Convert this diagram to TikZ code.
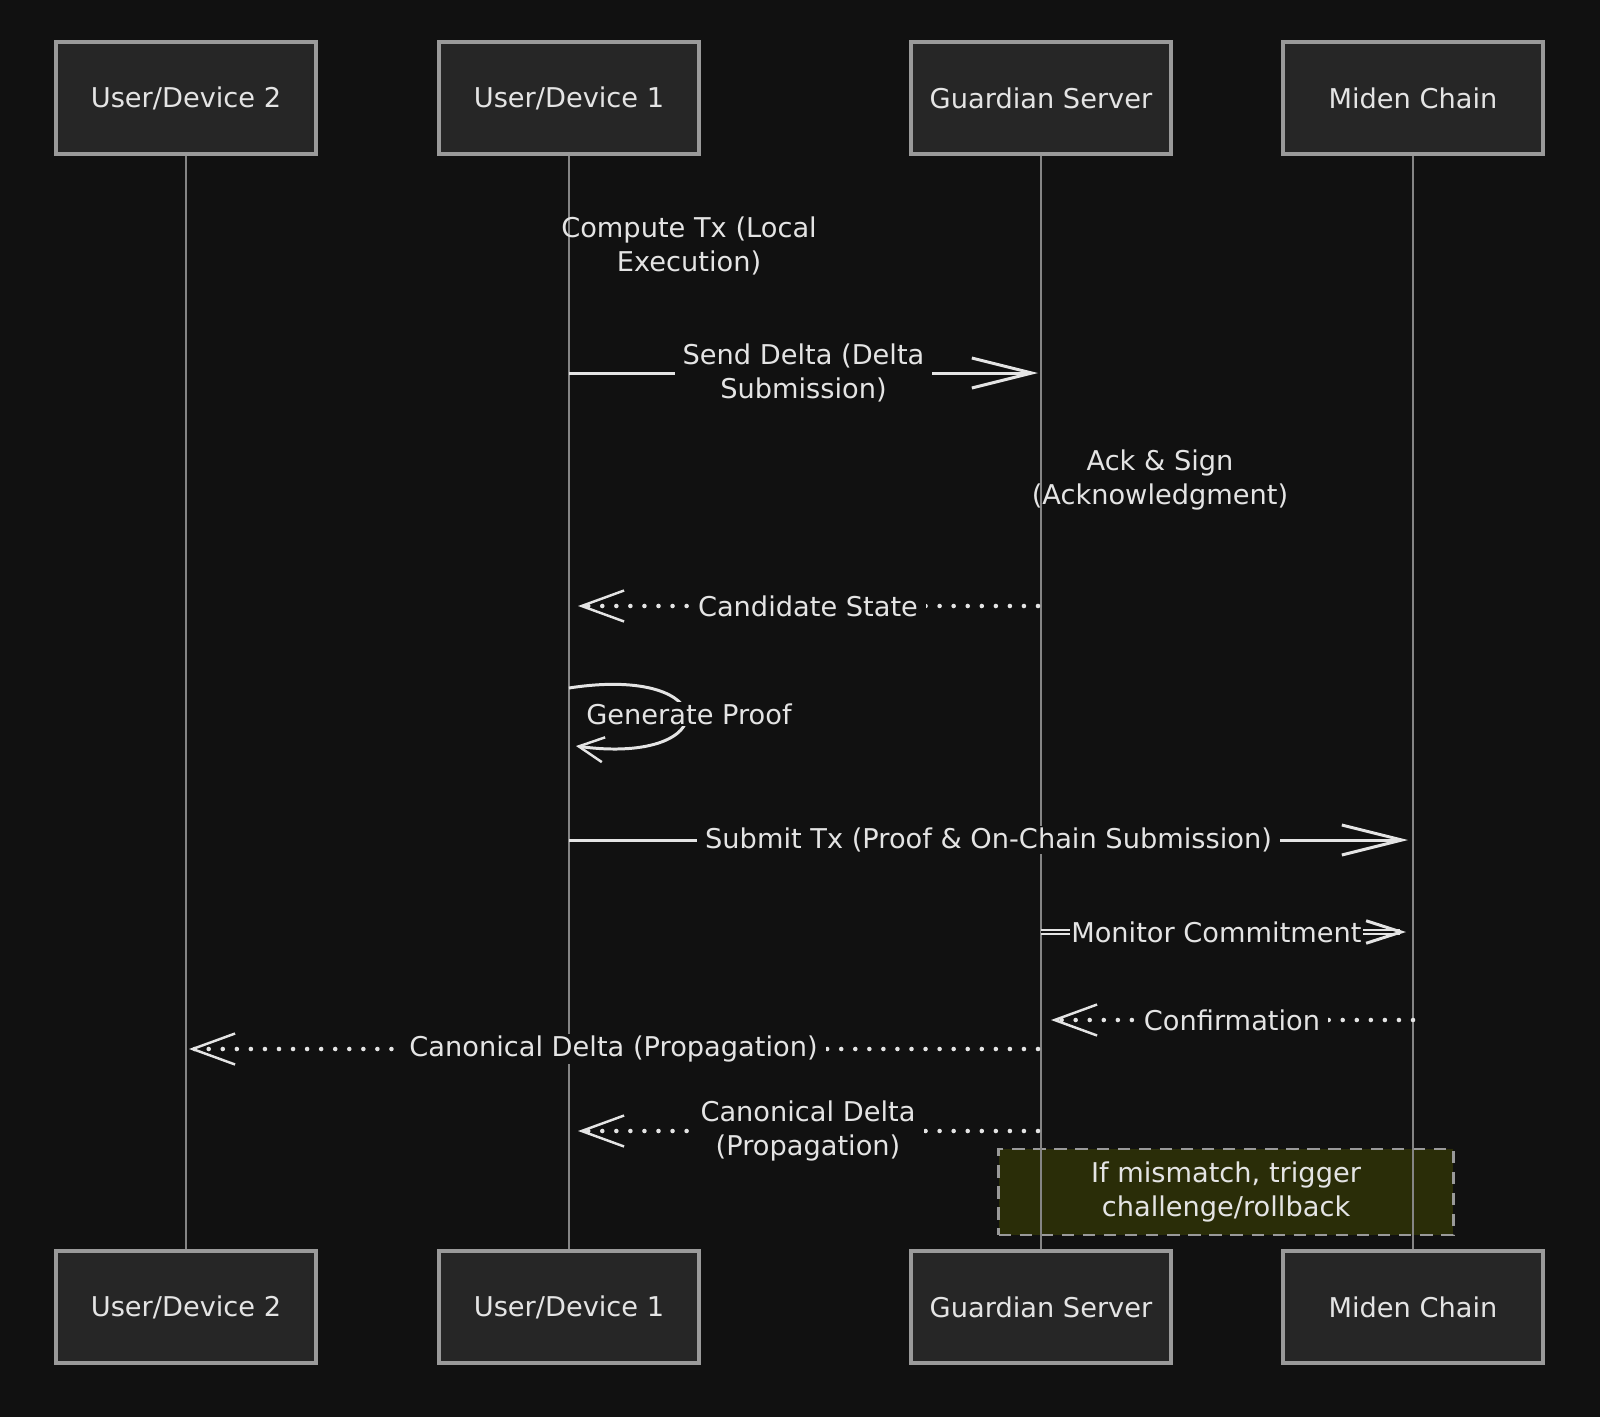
\documentclass[tikz,border=0pt]{standalone}
\usepackage{fontspec}
\setmainfont{DejaVu Sans}
\usetikzlibrary{arrows.meta,positioning}
\definecolor{bgcol}{HTML}{111111}
\definecolor{boxfill}{HTML}{262626}
\definecolor{boxline}{HTML}{9A9A9A}
\definecolor{inkcol}{HTML}{E4E4E4}
\definecolor{lifecol}{HTML}{858585}
\definecolor{notefill}{HTML}{2A2D08}
\newcommand\msgfont{\fontsize{15.5}{19.8}\selectfont}
\tikzset{
actor/.style={draw=boxline,fill=boxfill,line width=2pt,minimum width=5.2cm,minimum height=2.24cm,text=inkcol,font=\msgfont},
lifeline/.style={draw=lifecol,line width=.6pt},
lbl/.style={fill=bgcol,text=inkcol,align=center,font=\msgfont,inner xsep=.16cm,inner ysep=1pt},
freelbl/.style={text=inkcol,align=center,font=\msgfont},
msg/.style={draw=inkcol,line width=1.7pt,-{Straight Barb[length=1.2cm,width=.6cm,line width=1.7pt]}},
smallmsg/.style={draw=inkcol,line width=1.2pt,double=bgcol,double distance=1.1pt,-{Straight Barb[length=.7cm,width=.45cm,line width=1.7pt]}},
reply/.style={draw=inkcol,line width=2.6pt,line cap=round,dash pattern=on 0pt off 8pt,-{Straight Barb[length=.85cm,width=.62cm,line width=1.4pt]}},
selfmsg/.style={draw=inkcol,line width=1.7pt,-{Straight Barb[length=.5cm,width=.5cm,line width=1.4pt]}},
note/.style={draw=boxline,fill=notefill,dashed,dash pattern=on 7pt off 5pt,line width=1.6pt,minimum width=9.1cm,minimum height=1.72cm,text=inkcol,align=center,font=\msgfont}
}
\begin{document}
\begin{tikzpicture}[x=0.02cm,y=-0.02cm]
\fill[bgcol] (0,0) rectangle (1600,1417);
\useasboundingbox (0,0) rectangle (1600,1417);
% participants, top row
\node[actor] (dev2) at (186,98) {User/Device 2};
\node[actor] (dev1) at (569,98) {User/Device 1};
\node[actor] (guard) at (1041,98) {Guardian Server};
\node[actor] (miden) at (1413,98) {Miden Chain};
% participants, bottom row
\node[actor] (dev2b) at (186,1307) {User/Device 2};
\node[actor] (dev1b) at (569,1307) {User/Device 1};
\node[actor] (guardb) at (1041,1307) {Guardian Server};
\node[actor] (midenb) at (1413,1307) {Miden Chain};
% note
\node[note] (mismatch) at (1226,1192) {If mismatch, trigger\\challenge/rollback};
% lifelines
\foreach \p in {dev2,dev1,guard,miden}
  \draw[lifeline] (\p.south) -- (\p b.north);
% ends of the messages
\coordinate (d1send) at (569,373);
\coordinate (gsend) at (1038,373);
\coordinate (gcand) at (1038,606);
\coordinate (d1cand) at (578,606);
\coordinate (gpout) at (569,688);
\coordinate (gpin) at (576,746);
\coordinate (d1sub) at (569,840);
\coordinate (msub) at (1408,840);
\coordinate (gmon) at (1041,932);
\coordinate (mmon) at (1406,932);
\coordinate (mconf) at (1413,1020);
\coordinate (gconf) at (1051,1020);
\coordinate (gcan) at (1038,1049);
\coordinate (d2can) at (189,1049);
\coordinate (gcan2) at (1038,1131);
\coordinate (d1can2) at (578,1131);
% messages
\node[freelbl] (compute) at (689,246) {Compute Tx (Local\\Execution)};
\draw[msg] (d1send) -- node[lbl] (sendlbl) {Send Delta (Delta\\Submission)} (gsend);
\node[freelbl] (ack) at (1160,480) {Ack \& Sign\\(Acknowledgment)};
\draw[reply] (gcand) -- node[lbl] (candlbl) {Candidate State} (d1cand);
\draw[selfmsg] (gpout) .. controls (724,664) and (724,766) .. (gpin);
\node[lbl] (prooflbl) at (689,714) {Generate Proof};
\draw[msg] (d1sub) -- node[lbl] (sublbl) {Submit Tx (Proof \& On-Chain Submission)} (msub);
\draw[smallmsg] (gmon) -- node[lbl,inner xsep=1pt,xshift=-4pt] (monlbl) {Monitor Commitment} (mmon);
\draw[reply] (mconf) -- node[lbl] (conflbl) {Confirmation} (gconf);
\draw[reply] (gcan) -- node[lbl] (canlbl) {Canonical Delta (Propagation)} (d2can);
\draw[reply] (gcan2) -- node[lbl] (can2lbl) {Canonical Delta\\(Propagation)} (d1can2);
\end{tikzpicture}
\end{document}
